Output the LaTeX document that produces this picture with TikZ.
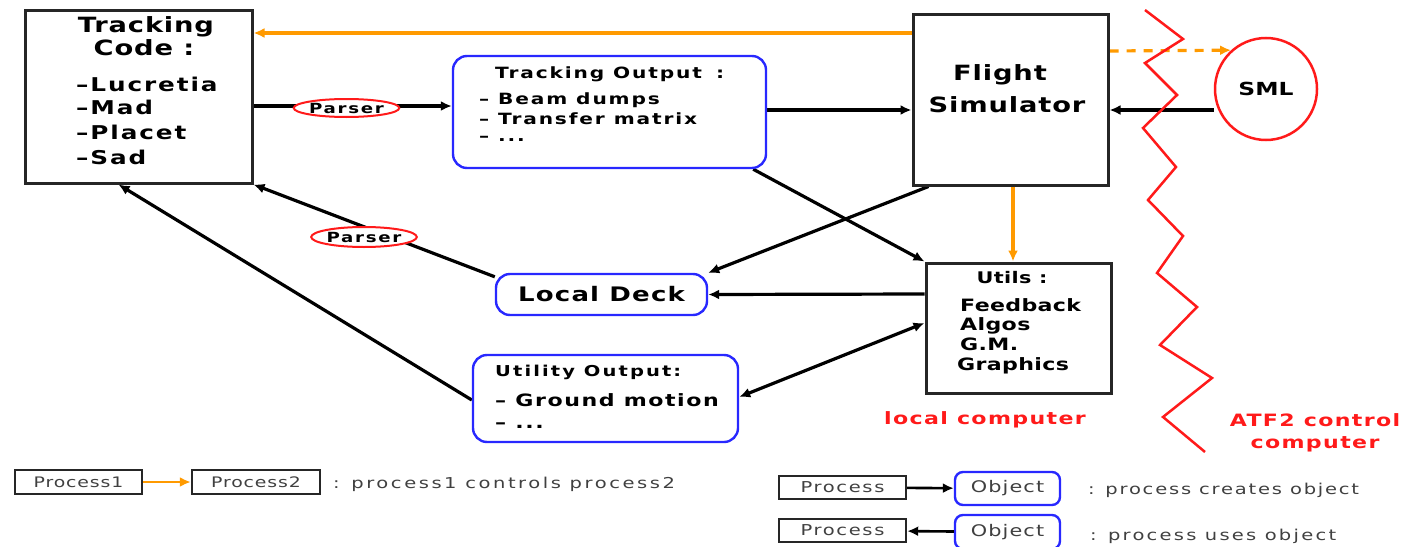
\documentclass[tikz,border=0pt]{standalone}
\usepackage{fontspec}
\setmainfont{DejaVu Sans}
\usetikzlibrary{arrows.meta,shapes.geometric,calc}
\newcommand\wf[3]{\fontsize{#1}{#1}\selectfont\addfontfeature{FakeStretch=#2,LetterSpace=#3}}
\definecolor{orng}{HTML}{FF9A00}
\definecolor{redl}{HTML}{FF1A1A}
\definecolor{blu}{HTML}{2828FF}
\pgfdeclarelayer{bg}
\pgfsetlayers{bg,main}
\begin{document}
\begin{tikzpicture}[x=1pt,y=-1pt,
  box/.style={draw=black!85, line width=3pt, inner sep=0pt},
  objbox/.style={draw=blu, line width=2.4pt, rounded corners=14pt, inner sep=0pt},
  tl/.style={inner sep=0pt, anchor=base west},
  tcen/.style={inner sep=0pt, anchor=base},
  big/.style={font=\bfseries\wf{21}{1.3}{4}},
  lst/.style={font=\bfseries\wf{19}{1.3}{10}},
  med/.style={font=\bfseries\wf{15.5}{1.3}{12}},
  utl/.style={font=\bfseries\wf{17}{1.3}{2}},
  redtxt/.style={text=redl, font=\bfseries\wf{17}{1.3}{8}},
  parser/.style={ellipse, draw=redl, fill=white, line width=2pt, inner sep=0pt, font=\bfseries\wf{14}{1.3}{12}},
  arr/.style={line width=3.2pt, -{Latex[length=11pt,width=10pt]}},
  oarr/.style={line width=3.2pt, draw=orng, -{Latex[length=11pt,width=10pt]}},
  legbox/.style={draw=black!85, line width=2.4pt, inner sep=0pt, text=black!75},
  legobj/.style={draw=blu, line width=2.4pt, rounded corners=8pt, inner sep=0pt, text=black!75, font=\wf{16}{1.3}{7}},
  legtxt/.style={inner sep=0pt, anchor=base west, text=black!75}
]
\useasboundingbox (0,0) rectangle (1410,546);

% Tracking code
\node[box, minimum width=227pt, minimum height=173pt] (tcode) at (138.5,96.5) {};
\node[tcen,big] (tcodeA) at (146,32) {Tracking};
\node[tcen,big] (tcodeB) at (144,55) {Code :};
\node[tl,lst] (tcodeC) at (76,91) {–Lucretia};
\node[tl,lst] (tcodeD) at (76,114) {–Mad};
\node[tl,lst] (tcodeE) at (76,139) {–Placet};
\node[tl,lst] (tcodeF) at (76,164) {–Sad};

% Tracking output
\node[objbox, minimum width=313pt, minimum height=112pt] (tout) at (609.5,112) {};
\node[tl,med] (toutA) at (495,78) {Tracking Output\,\, :};
\node[tl,med] (toutB) at (479,104) {– Beam dumps};
\node[tl,med] (toutC) at (479,124) {– Transfer matrix};
\node[tl,med] (toutD) at (479,141) {– ...};

% Flight simulator
\node[box, minimum width=195pt, minimum height=171pt] (fsim) at (1010.5,99.5) {};
\node[tcen,big] (fsimA) at (1000,80) {Flight};
\node[tcen,big] (fsimB) at (1007,112) {Simulator};

% SML
\node[circle, draw=redl, line width=2.5pt, minimum size=102pt, inner sep=0pt, font=\bfseries\wf{18}{1.3}{0}] (sml) at (1266,89) {SML};

% Utils
\node[box, minimum width=185pt, minimum height=130pt] (utils) at (1018.5,328) {};
\node[tcen, font=\bfseries\wf{16}{1.3}{2}] (utilsA) at (1012,283) {Utils :};
\node[tl,utl] (utilsB) at (960,311) {Feedback};
\node[tl,utl] (utilsC) at (960,330) {Algos};
\node[tl,utl] (utilsD) at (960,350) {G.M.};
\node[tl,utl] (utilsE) at (957,370) {Graphics};

% computer labels
\node[tcen,redtxt] (lcomp) at (985,424) {local computer};
\node[tcen,redtxt] (atfA) at (1315,426) {ATF2 control};
\node[tcen,redtxt] (atfB) at (1315,448) {computer};

% Local deck
\node[objbox, minimum width=211pt, minimum height=41pt, font=\bfseries\wf{20}{1.3}{6}] (ldeck) at (601.5,294.5) {Local Deck};

% Utility output
\node[objbox, minimum width=265pt, minimum height=87pt] (uout) at (605.5,398.5) {};
\node[tl, font=\bfseries\wf{15}{1.3}{14}] (uoutA) at (495,376) {Utility Output:};
\node[tl, font=\bfseries\wf{17}{1.3}{9}] (uoutB) at (495,406) {– Ground motion};
\node[tl, font=\bfseries\wf{17}{1.3}{9}] (uoutC) at (495,428) {– ...};

% Parsers
\node[parser, minimum width=97pt, minimum height=18pt] (parsA) at (346.5,108) {Parser};
\node[parser, minimum width=98pt, minimum height=20pt] (parsB) at (364,237) {Parser};

% Zigzag separator
\draw[redl, line width=2.5pt, line join=miter]
  (1145,10) -- (1183,39) -- (1145,63) -- (1177,95) -- (1143,128) -- (1176,167)
  -- (1148,200) -- (1183,236) -- (1157,273) -- (1197,307) -- (1160,345)
  -- (1212,378) -- (1163,417) -- (1205,452);

\begin{pgfonlayer}{bg}
\draw[oarr] (fsim.west |- 0,33) -- (tcode.east |- 0,33);
\draw[arr] (tcode.east |- 0,106) -- (tout.west |- 0,106);
\draw[arr] (tout.east |- 0,110) -- (fsim.west |- 0,110);
\draw[arr] (sml.west |- 0,110) -- (fsim.east |- 0,110);
\draw[oarr, dash pattern=on 9pt off 8pt] (fsim.east |- 0,51) -- (sml.132);
\draw[oarr] (fsim.south -| 1013,0) -- (utils.north -| 1013,0);
\draw[arr] ([xshift=-14pt]tout.south east) -- (utils.north west);
\draw[arr] ([xshift=17pt]fsim.south west) -- (ldeck.north east);
\draw[arr] (utils.west |- 0,294) -- (ldeck.east);
\draw[arr] ([yshift=-4pt]ldeck.north west) -- (tcode.south east);
\draw[arr] (uout.west |- 0,400) -- ([xshift=95pt]tcode.south west);
\draw[line width=3.2pt, {Latex[length=11pt,width=10pt]}-{Latex[length=11pt,width=10pt]}] (utils.west |- 0,323) -- (uout.east |- 0,397);
\end{pgfonlayer}

% Legend
\node[legbox, minimum width=127pt, minimum height=24pt, font=\wf{14.5}{1.3}{6}] (lpA) at (78.5,482) {Process1};
\node[legbox, minimum width=128pt, minimum height=24pt, font=\wf{14.5}{1.3}{6}] (lpB) at (256,482) {Process2};
\draw[oarr, line width=2.6pt] (lpA) -- (lpB);
\node[legtxt, font=\wf{15}{1.3}{17}] (legA) at (333,488) {: process1 controls process2};

\node[legbox, minimum width=127pt, minimum height=23pt, font=\wf{15}{1.3}{11}] (lpC) at (842.5,487.5) {Process};
\node[legobj, minimum width=105pt, minimum height=33pt] (loC) at (1007.5,488.5) {Object};
\draw[arr, line width=2.6pt] (lpC) -- (loC);
\node[legtxt, font=\wf{15}{1.3}{12}] (legB) at (1088,494) {: process creates object};

\node[legbox, minimum width=127pt, minimum height=23pt, font=\wf{15}{1.3}{11}] (lpD) at (842.5,530.5) {Process};
\node[legobj, minimum width=105pt, minimum height=34pt] (loD) at (1007.5,532) {Object};
\draw[arr, line width=2.6pt] (loD) -- (lpD);
\node[legtxt, font=\wf{15}{1.3}{15}] (legC) at (1090,540) {: process uses object};
\end{tikzpicture}
\end{document}
